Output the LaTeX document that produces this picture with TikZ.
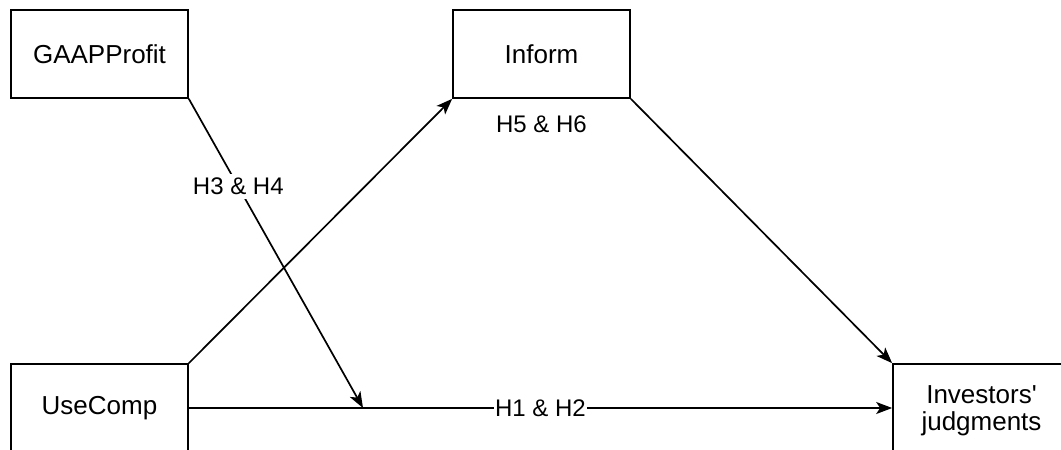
\documentclass[tikz,border=0pt]{standalone}
\usepackage{fontspec}
\setmainfont{Liberation Sans}
\usetikzlibrary{arrows.meta}
\begin{document}
\begin{tikzpicture}[x=1pt,y=-1pt,
  box/.style={draw, line width=1.7pt, minimum width=177pt, minimum height=88pt, align=center, font=\fontsize{26}{27}\selectfont, inner sep=0pt},
  conn/.style={line width=1.7pt, -{Stealth[length=16pt,width=12pt,inset=4pt]}},
  lbl/.style={font=\fontsize{24}{26}\selectfont, inner xsep=1pt, inner ysep=4pt}]
\useasboundingbox (0,0) rectangle (1061,450);
\clip (0,0) rectangle (1061,450);
\node[box] (gaap) at (99.5,54) {GAAPProfit};
\node[box] (inform) at (541.5,54) {Inform};
\node[box] (use) at (99.5,408) {UseComp};
\node[box] (inv) at (981.5,408) {};
\node[font=\fontsize{26}{27}\selectfont, align=center, inner sep=0pt] (invtext) at (981.5,411) {Investors\textquotesingle\\judgments};
\coordinate (hit) at (363,408);
\draw[conn] (use.north east) -- (inform.south west);
\draw[conn] (inform.south east) -- (inv.north west);
\draw[conn] (use.east) -- node[lbl, fill=white] {H1 \& H2} (inv.west);
\draw[conn] (gaap.south east) -- node[lbl, fill=white, pos=0.284] {H3 \& H4} (hit);
\node[lbl] (h56) at (541.5,124) {H5 \& H6};
\end{tikzpicture}
\end{document}
